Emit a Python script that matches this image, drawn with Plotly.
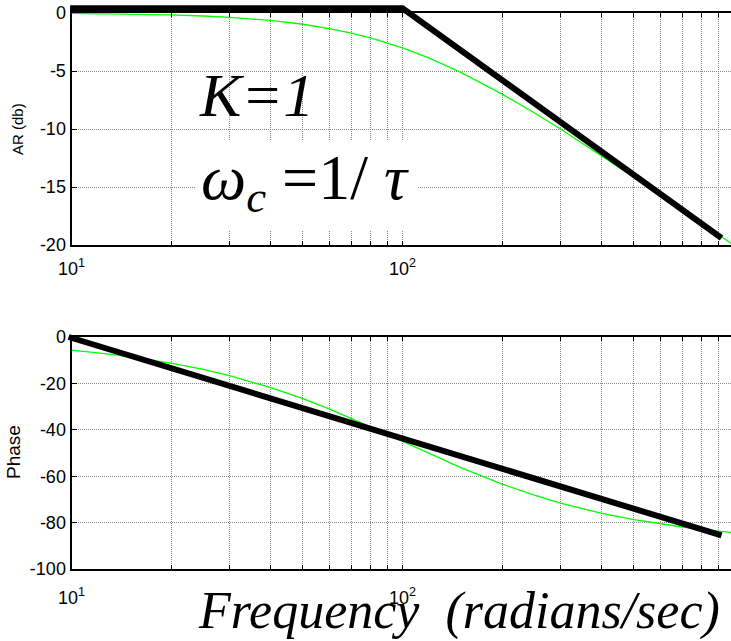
import plotly.graph_objects as go

# ---- data ---------------------------------------------------------------
freq = [10, 12, 15, 20, 25, 30, 40, 50, 60, 70, 80, 90, 100, 120, 150, 200,
        250, 300, 400, 500, 600, 700, 800, 900, 1000]
ar_db = [-0.04, -0.06, -0.10, -0.17, -0.26, -0.37, -0.64, -0.97, -1.34, -1.73,
         -2.15, -2.58, -3.01, -3.87, -5.12, -6.99, -8.60, -10.0, -12.3, -14.15,
         -15.7, -17.0, -18.1, -19.1, -20.0]
phase_deg = [-5.7, -6.8, -8.5, -11.3, -14.0, -16.7, -21.8, -26.6, -31.0, -35.0,
             -38.7, -42.0, -45.0, -50.2, -56.3, -63.4, -68.2, -71.6, -76.0,
             -78.7, -80.5, -81.9, -82.9, -83.7, -84.3]

# straight-line (asymptotic) approximations
ar_asym_freq = [9.9, 100, 920]
ar_asym_db = [0.4, 0.4, -19.4]
ph_asym_freq = [9.8, 920]
ph_asym_deg = [0.0, -85.5]

x_tickvals = [10, 20, 30, 40, 50, 60, 70, 80, 90,
              100, 200, 300, 400, 500, 600, 700, 800, 900]
x_ticktext = ["10<sup>1</sup>"] + [""] * 8 + ["10<sup>2</sup>"] + [""] * 8
ar_ticks = [0, -5, -10, -15, -20]
ph_ticks = [0, -20, -40, -60, -80, -100]

# ---- page geometry (pixels) --------------------------------------------
W, H = 731, 641
PX_L = 71.5          # left edge of the axes boxes
DEC = 331.0          # pixels per decade
AR_TOP, AR_BOT = 13, 245
PH_TOP, PH_BOT = 337, 569

x_hi = 1 + (W - PX_L) / DEC
s_ar = 20.0 / (AR_BOT - AR_TOP)
s_ph = 100.0 / (PH_BOT - PH_TOP)

TICK_FONT = dict(family="Liberation Sans, Arial", size=18, color="black")
GRID = dict(showgrid=True, gridcolor="#8a8a8a", gridwidth=1, griddash="1px,1px")

fig = go.Figure()

fig.add_trace(go.Scatter(x=freq, y=ar_db, mode="lines", xaxis="x", yaxis="y",
                         line=dict(color="#00ff00", width=1.3), showlegend=False))
fig.add_trace(go.Scatter(x=freq, y=phase_deg, mode="lines", xaxis="x2", yaxis="y2",
                         line=dict(color="#00ff00", width=1.3), showlegend=False))

# asymptotes live on full-page axes so their thick strokes are not clipped
fig.add_trace(go.Scatter(x=ar_asym_freq, y=ar_asym_db, mode="lines",
                         xaxis="x3", yaxis="y3",
                         line=dict(color="black", width=6), showlegend=False))
fig.add_trace(go.Scatter(x=ph_asym_freq, y=ph_asym_deg, mode="lines",
                         xaxis="x3", yaxis="y4",
                         line=dict(color="black", width=6), showlegend=False))

xcommon = dict(type="log", range=[1, x_hi], domain=[PX_L / W, 1],
               tickmode="array", tickvals=x_tickvals, ticktext=x_ticktext,
               ticks="inside", ticklen=4, tickcolor="black", tickwidth=1,
               showline=True, linecolor="black", linewidth=2, mirror="ticks",
               tickfont=TICK_FONT, zeroline=False, automargin=False, **GRID)
ycommon = dict(tickmode="array", ticks="inside", ticklen=5, tickcolor="black",
               tickwidth=1, showline=True, linecolor="black", linewidth=2,
               mirror=False, tickfont=TICK_FONT, zeroline=False,
               automargin=False, **GRID)

fig.update_layout(
    template="none",
    width=W, height=H,
    margin=dict(l=0, r=0, t=0, b=0, pad=0),
    paper_bgcolor="white", plot_bgcolor="rgba(0,0,0,0)",
    xaxis=dict(anchor="y", ticklabelstandoff=6, **xcommon),
    xaxis2=dict(anchor="y2", ticklabelstandoff=11, **xcommon),
    yaxis=dict(anchor="x", domain=[1 - AR_BOT / H, 1 - AR_TOP / H],
               range=[-20, 0], tickvals=ar_ticks,
               ticktext=[str(v) for v in ar_ticks], **ycommon),
    yaxis2=dict(anchor="x2", domain=[1 - PH_BOT / H, 1 - PH_TOP / H],
                range=[-100, 0], tickvals=ph_ticks,
                ticktext=[str(v) for v in ph_ticks], **ycommon),
    xaxis3=dict(type="log", domain=[0, 1], anchor="y3", visible=False,
                automargin=False, range=[1 - PX_L / DEC, x_hi]),
    yaxis3=dict(domain=[0, 1], anchor="x3", visible=False, automargin=False,
                range=[-20 - (H - AR_BOT) * s_ar, AR_TOP * s_ar]),
    yaxis4=dict(domain=[0, 1], anchor="x3", visible=False, automargin=False,
                range=[-100 - (H - PH_BOT) * s_ph, PH_TOP * s_ph]),
)

serif = "Liberation Serif, Times New Roman, serif"
sans = "Liberation Sans, Arial, sans-serif"

# white panel behind the cut-off frequency label
fig.add_shape(type="rect", xref="paper", yref="paper", layer="above",
              x0=195 / W, x1=418 / W, y0=1 - 230 / H, y1=1 - 140 / H,
              fillcolor="white", line=dict(width=0))


def label(text, px, py, size, family, angle=0):
    fig.add_annotation(text=text, x=px / W, y=1 - py / H, xref="paper", yref="paper",
                       xanchor="center", yanchor="middle", textangle=angle,
                       showarrow=False,
                       font=dict(family=family, size=size, color="black"))


label("AR (db)", 18, 129, 15, sans, -90)
label("Phase", 13, 452, 19, sans, -90)
label("<i>K=1</i>", 256, 95, 62, serif)
label("<i>ω</i><sub><i>c</i></sub> =1/ <i>τ</i>", 305, 182, 64, serif)
label("<i>Frequency  (radians/sec)</i>", 459, 611, 52, serif)

fig.write_html("out.html")
